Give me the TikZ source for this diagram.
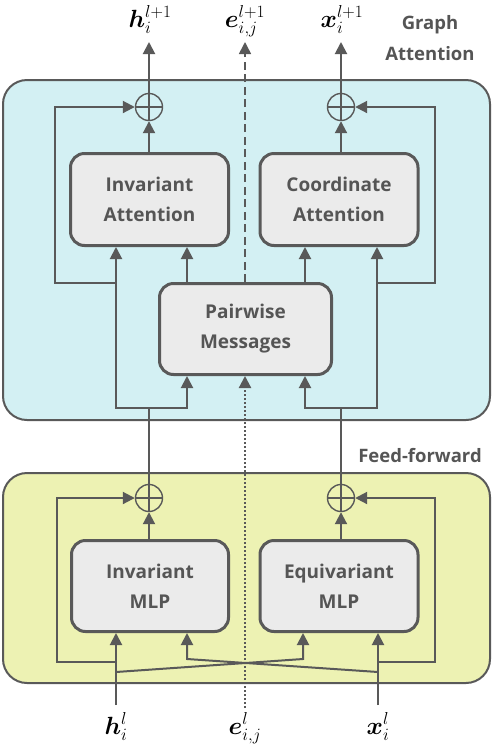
\documentclass[tikz,border=0pt]{standalone}
\usepackage{amsmath,bm}
\usepackage[no-math]{fontspec}
\setmainfont{Open Sans}
\usetikzlibrary{arrows.meta}
\definecolor{linec}{HTML}{595959}
\definecolor{cyanc}{HTML}{D3F0F3}
\definecolor{yelc}{HTML}{EDF2B3}
\definecolor{boxc}{HTML}{EBEBEB}
\definecolor{textc}{HTML}{555555}
\begin{document}
\begin{tikzpicture}[x=1pt,y=-1pt,
  lc/.style={draw=linec,line width=2pt},
  arr/.style={lc,-{Triangle[length=12pt,width=12pt]}},
  panel/.style={draw=linec,line width=2pt,rounded corners=24pt},
  box/.style={draw=linec,line width=3pt,fill=boxc,rounded corners=14pt,
    inner sep=0pt,align=center,text=textc,
    font=\fontsize{19}{30}\selectfont\bfseries},
  plus/.style={circle,draw=linec,line width=1.4pt,minimum size=27pt,inner sep=0pt,
    path picture={\draw[linec,line width=1.4pt]
      (path picture bounding box.north) -- (path picture bounding box.south)
      (path picture bounding box.west) -- (path picture bounding box.east);}},
  lbl/.style={text=textc,font=\fontsize{18.5}{22}\selectfont\bfseries,inner sep=0pt},
  mlbl/.style={inner sep=0pt,font=\fontsize{24}{28}\selectfont}]
\useasboundingbox (0,0) rectangle (494,748);
% panels
\draw[panel,fill=cyanc] (3,80) rectangle (490,420);
\draw[panel,fill=yelc] (3,473) rectangle (490,683);
% panel labels
\node[lbl,anchor=base] (g1) at (430,29) {Graph};
\node[lbl,anchor=base] (g2) at (430,60) {Attention};
\node[lbl,anchor=base] (ff) at (420,462) {Feed-forward};
% boxes
\node[box,minimum width=158pt,minimum height=92pt] (ia) at (149.5,199.5) {Invariant\\Attention};
\node[box,minimum width=158pt,minimum height=92pt] (ca) at (339,199.5) {Coordinate\\Attention};
\node[box,minimum width=172pt,minimum height=91pt] (pm) at (245.5,329) {Pairwise\\Messages};
\node[box,minimum width=157pt,minimum height=91pt] (imlp) at (150,586) {Invariant\\MLP};
\node[box,minimum width=158pt,minimum height=91pt] (emlp) at (339,586) {Equivariant\\MLP};
% plus nodes
\node[plus] (op1) at (149,107) {};
\node[plus] (op2) at (341,107) {};
\node[plus] (op3) at (149,498) {};
\node[plus] (op4) at (341,498) {};
% text labels
\node[mlbl,anchor=base] (hout) at (150,27) {$\bm{h}_i^{l+1}$};
\node[mlbl,anchor=base] (eout) at (245,27) {$\bm{e}_{i,j}^{l+1}$};
\node[mlbl,anchor=base] (xout) at (342,27) {$\bm{x}_i^{l+1}$};
\node[mlbl,anchor=base] (hin) at (116,734) {$\bm{h}_i^{l}$};
\node[mlbl,anchor=base] (ein) at (245,734) {$\bm{e}_{i,j}^{l}$};
\node[mlbl,anchor=base] (xin) at (378,734) {$\bm{x}_i^{l}$};
% coordinates
\coordinate (ht) at (149,42);
\coordinate (et) at (245,42);
\coordinate (xt) at (341,42);
\coordinate (a1) at (116,408);
\coordinate (a2) at (187,408);
\coordinate (b1) at (305,408);
\coordinate (b2) at (377,408);
\coordinate (s1) at (55,283);
\coordinate (s2) at (435,283);
\coordinate (h0) at (116,705);
\coordinate (x0) at (378,705);
\coordinate (e0) at (245,708);
\coordinate (c1) at (116,672);
\coordinate (c2) at (303,659);
\coordinate (c3) at (187,659);
\coordinate (c4) at (378,672);
\coordinate (d1) at (57,662);
\coordinate (d2) at (435,662);
% graph attention connections
\draw[arr] (op1 |- ia.north) -- (op1.south);
\draw[arr] (op1.north) -- (ht);
\draw[arr] (op2 |- ca.north) -- (op2.south);
\draw[arr] (op2.north) -- (xt);
\draw[lc,dash pattern=on 8pt off 4.5pt,line width=1.6pt,-{Triangle[length=12pt,width=12pt]}] (pm.north -| et) -- (et);
\draw[arr] (op3.north) |- (a2) -- (pm.south -| a2);
\draw[arr] (op3 |- a1) -- (a1) -- (ia.south -| a1);
\draw[arr] (a1 |- s1) -- (s1) -- (s1 |- op1) -- (op1.west);
\draw[arr] (pm.north -| a2) -- (ia.south -| a2);
\draw[arr] (op4.north) |- (b1) -- (pm.south -| b1);
\draw[arr] (op4 |- b2) -- (b2) -- (ca.south -| b2);
\draw[arr] (b2 |- s2) -- (s2) -- (s2 |- op2) -- (op2.east);
\draw[arr] (pm.north -| b1) -- (ca.south -| b1);
\draw[lc,dash pattern=on 2.5pt off 1.5pt,line width=2.2pt,-{Triangle[length=12pt,width=12pt]}] (e0) -- (pm.south -| e0);
% feed-forward connections
\draw[arr] (op3 |- imlp.north) -- (op3.south);
\draw[arr] (op4 |- emlp.north) -- (op4.south);
\draw[arr] (h0) -- (imlp.south -| h0);
\draw[arr] (x0) -- (emlp.south -| x0);
\draw[arr] (c1) -- (c2) -- (emlp.south -| c2);
\draw[arr] (c4) -- (c3) -- (imlp.south -| c3);
\draw[arr] (h0 |- d1) -- (d1) -- (d1 |- op3) -- (op3.west);
\draw[arr] (x0 |- d2) -- (d2) -- (d2 |- op4) -- (op4.east);
\end{tikzpicture}
\end{document}
